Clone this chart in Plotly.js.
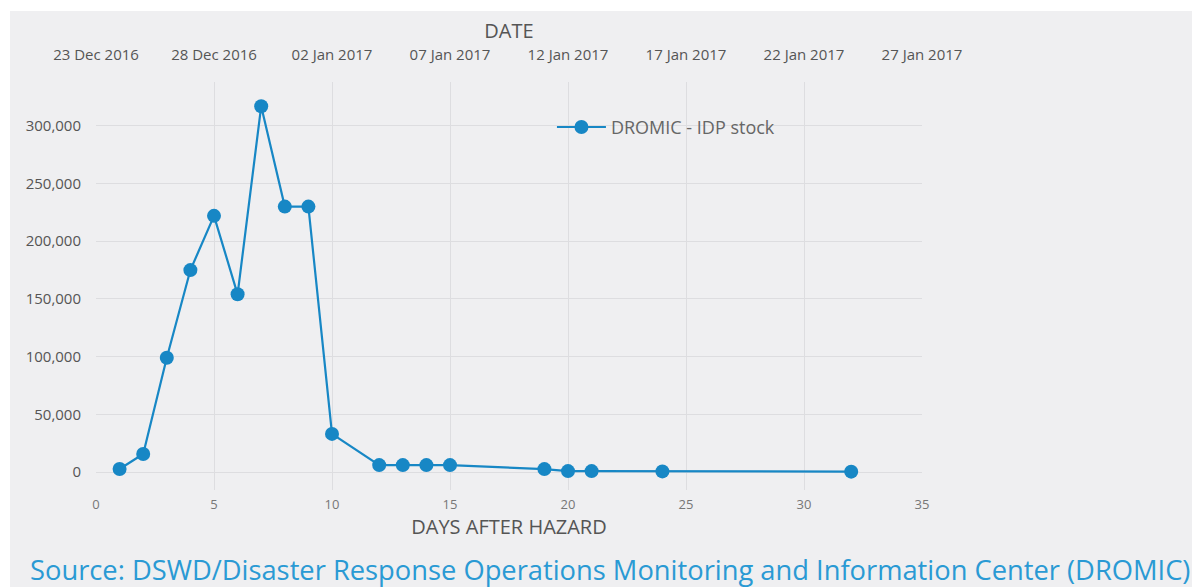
<!DOCTYPE html>
<html>
<head>
<meta charset="utf-8">
<script src="https://cdn.plot.ly/plotly-3.0.1.min.js"></script>
<style>
  html, body { margin: 0; padding: 0; background: #ffffff; width: 1192px; height: 587px; overflow: hidden; }
  #chart { position: absolute; left: 10px; top: 11px; width: 1182px; height: 576px; }
</style>
</head>
<body>
<div id="chart"></div>
<script>
// Data
const daysAfterHazard = [1, 2, 3, 4, 5, 6, 7, 8, 9, 10, 12, 13, 14, 15, 19, 20, 21, 24, 32];
const idpStock = [2600, 15600, 99000, 175000, 222000, 154000, 317000, 230000, 230000, 33000,
                  6000, 6000, 6000, 6000, 2500, 800, 800, 500, 300];
const seriesName = 'DROMIC - IDP stock';
const hazardDate = '2016-12-23';
const lastDate = '2017-01-27';
const sourceText = 'Source: DSWD/Disaster Response Operations Monitoring and Information Center (DROMIC)';

const blue = '#1787c5';
const bg = '#efeff1';
const fontFam = '"Open Sans", "Noto Sans", sans-serif';

// calendar dates matching each day after hazard (for the top date axis)
const dayMs = 86400000;
const hazardMs = Date.parse(hazardDate + 'T00:00:00Z');
const calendarDates = daysAfterHazard.map(d => new Date(hazardMs + d * dayMs).toISOString().slice(0, 10));

const trace = {
  x: daysAfterHazard,
  y: idpStock,
  name: seriesName,
  type: 'scatter',
  mode: 'lines+markers',
  line: { color: blue, width: 2.2 },
  marker: { color: blue, size: 14 },
  showlegend: true
};

// invisible companion trace so the top date axis is drawn
const dateTrace = {
  x: calendarDates,
  y: idpStock,
  xaxis: 'x2',
  type: 'scatter',
  mode: 'markers',
  marker: { opacity: 0, size: 1 },
  hoverinfo: 'skip',
  showlegend: false
};

const layout = {
  width: 1182,
  height: 576,
  paper_bgcolor: bg,
  plot_bgcolor: bg,
  font: { family: fontFam, color: '#555555', size: 12 },
  margin: { l: 86, r: 270, t: 71, b: 97 },
  showlegend: true,
  legend: {
    x: 0.552, y: 0.889, xanchor: 'left', yanchor: 'middle',
    bgcolor: 'rgba(0,0,0,0)',
    itemwidth: 49,
    font: { size: 18, color: '#666666', family: fontFam }
  },
  xaxis: {
    range: [0, 35],
    dtick: 5,
    tick0: 0,
    showgrid: true,
    gridcolor: '#dddde0',
    gridwidth: 1,
    zeroline: false,
    showline: false,
    ticks: '',
    ticklabelstandoff: 5,
    tickfont: { size: 13, color: '#777777' },
    title: { text: 'DAYS AFTER HAZARD', font: { size: 20, color: '#555555' }, standoff: 7 }
  },
  xaxis2: {
    type: 'date',
    overlaying: 'x',
    side: 'top',
    anchor: 'y',
    range: [hazardDate, lastDate],
    tick0: hazardDate,
    dtick: 5 * dayMs,
    tickformat: '%d %b %Y',
    showgrid: false,
    zeroline: false,
    showline: false,
    ticks: '',
    ticklabelstandoff: 18,
    tickfont: { size: 15, color: '#555555' },
    title: { text: 'DATE', font: { size: 20, color: '#555555' }, standoff: 0 }
  },
  yaxis: {
    range: [-15600, 338000],
    dtick: 50000,
    tick0: 0,
    tickformat: ',d',
    showgrid: true,
    gridcolor: '#dddde0',
    zeroline: false,
    showline: false,
    ticks: '',
    ticklabelstandoff: 14,
    tickfont: { size: 15, color: '#555555' }
  },
  annotations: [{
    text: sourceText,
    xref: 'paper', yref: 'paper',
    x: 0.622, y: -0.196,
    xanchor: 'center', yanchor: 'middle',
    showarrow: false,
    font: { size: 27.3, color: '#2a9ad4', family: fontFam }
  }]
};

Plotly.newPlot('chart', [trace, dateTrace], layout, { displayModeBar: false, staticPlot: true });
</script>
</body>
</html>
